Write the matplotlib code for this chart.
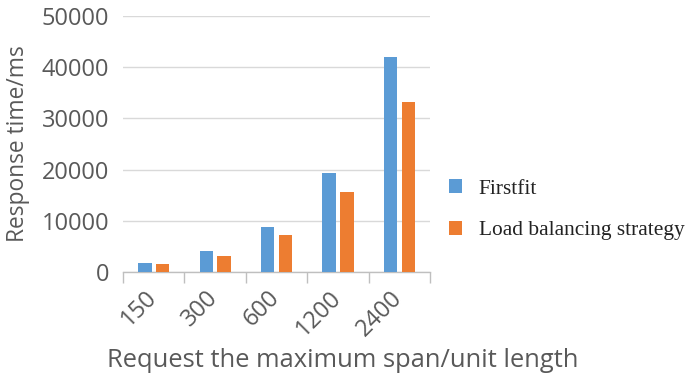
import matplotlib
matplotlib.use("Agg")
import matplotlib.pyplot as plt
import matplotlib.transforms as mtransforms
import numpy as np

categories = ["150", "300", "600", "1200", "2400"]
firstfit = [1700, 4150, 8770, 19430, 41970]
load_balancing = [1500, 3100, 7200, 15650, 33270]
series_names = ["Firstfit", "Load balancing strategy"]

sans = ["Open Sans", "DejaVu Sans"]
grey = "#595959"

fig = plt.figure(figsize=(6.85, 3.83), dpi=100)
ax = fig.add_axes([0.1796, 0.290, 0.4484, 0.668])

x = np.arange(len(categories))
w = 0.22
off = 0.145
b1 = ax.bar(x - off, firstfit, w, color="#5B9BD5", label=series_names[0], zorder=3)
b2 = ax.bar(x + off, load_balancing, w, color="#ED7D31", label=series_names[1], zorder=3)

ax.set_xlim(-0.5, len(categories) - 0.5)
ax.set_ylim(0, 50000)
ax.set_yticks(np.arange(0, 50001, 10000))
ax.yaxis.grid(True, color="#D9D9D9", linewidth=1.0, zorder=0)
ax.tick_params(axis="y", length=0, pad=10, labelsize=17, labelcolor=grey)
for lab in ax.get_yticklabels():
    lab.set_fontfamily(sans)

ax.set_xticks(x)
ax.set_xticklabels(categories, rotation=45, ha="right", va="top",
                   rotation_mode="anchor", fontsize=17, color=grey, family=sans)
ax.tick_params(axis="x", which="major", length=0, pad=10)
shift = mtransforms.ScaledTranslation(-6.5 / 72, 0, fig.dpi_scale_trans)
for lab in ax.get_xticklabels():
    lab.set_transform(lab.get_transform() + shift)
ax.set_xticks(np.arange(-0.5, len(categories), 1.0), minor=True)
ax.tick_params(axis="x", which="minor", length=8, width=1, color="#BFBFBF")

for s in ["top", "right", "left"]:
    ax.spines[s].set_visible(False)
ax.spines["bottom"].set_color("#BFBFBF")
ax.spines["bottom"].set_linewidth(1)

ax.set_ylabel("Response time/ms", fontsize=16.4, color=grey, family=sans, labelpad=8)
fig.text(0.5, 0.06, "Request the maximum span/unit length", fontsize=18.4,
         color=grey, family=sans, ha="center", va="center")

fig.legend(handles=[b1, b2], labels=series_names, loc="center left",
           bbox_to_anchor=(0.655, 0.452), frameon=False,
           borderpad=0, borderaxespad=0,
           prop={"family": ["Liberation Serif"], "size": 15.4},
           handlelength=0.6, handleheight=0.6, handletextpad=0.8,
           labelspacing=1.05, labelcolor="#222222")

fig.savefig("out.png", dpi=100)
